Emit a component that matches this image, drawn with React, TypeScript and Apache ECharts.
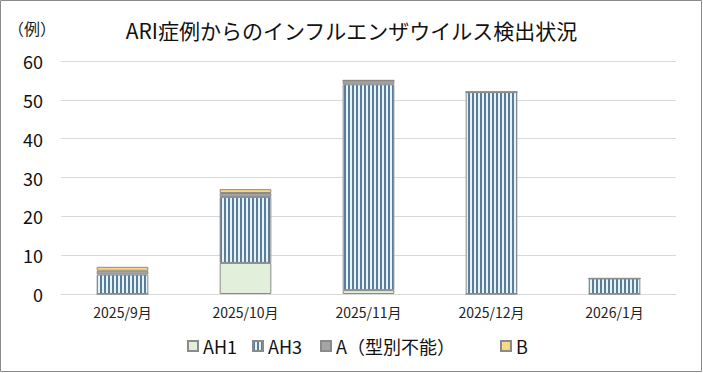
import React, { useEffect, useRef } from "react";
import * as echarts from "echarts";

const categories = ["2025/9月", "2025/10月", "2025/11月", "2025/12月", "2026/1月"];
const ah1 = [0, 8, 1, 0, 0];
const ah3 = [5, 17, 53, 52, 4];
const aUntyped = [1, 1, 1, 0, 0];
const bType = [1, 1, 0, 0, 0];
const seriesNames = ["AH1", "AH3", "A（型別不能）", "B"];
const yTicks = { min: 0, max: 60, interval: 10 };

const FONT = "'Noto Sans CJK JP', 'Noto Sans', sans-serif";

function makeStripe(): HTMLCanvasElement {
  const c = document.createElement("canvas");
  c.width = 4;
  c.height = 4;
  const ctx = c.getContext("2d")!;
  ctx.fillStyle = "#e3f4fc";
  ctx.fillRect(0, 0, 4, 4);
  ctx.fillStyle = "#5d7c97";
  ctx.fillRect(0, 0, 2, 4);
  return c;
}

function makeDots(): HTMLCanvasElement {
  const c = document.createElement("canvas");
  c.width = 4;
  c.height = 4;
  const ctx = c.getContext("2d")!;
  ctx.fillStyle = "#fdd77e";
  ctx.fillRect(0, 0, 4, 4);
  ctx.fillStyle = "#fff2c8";
  ctx.fillRect(1, 1, 1, 1);
  return c;
}

export default function App() {
  const ref = useRef<HTMLDivElement>(null);
  useEffect(() => {
    if (!ref.current) return;
    const chart = echarts.init(ref.current, undefined, { renderer: "svg" });
    const stripe = { image: makeStripe(), repeat: "repeat" } as any;
    const dots = { image: makeDots(), repeat: "repeat" } as any;
    const border = { borderColor: "#8a8a8a", borderWidth: 1 };
    const mk = (name: string, data: number[], color: any) => ({
      name,
      type: "bar",
      stack: "total",
      data,
      barWidth: "42%",
      itemStyle: { color, ...border },
    });
    const legendLefts = [187, 252, 320, 500];
    chart.setOption({
      animation: false,
      textStyle: { fontFamily: FONT },
      title: {
        text: "ARI症例からのインフルエンザウイルス検出状況",
        left: "center",
        top: 14,
        textStyle: { fontSize: 21, fontWeight: "normal", color: "#111", fontFamily: FONT },
      },
      graphic: [
        {
          type: "rect",
          shape: { x: 0.5, y: 0.5, width: 701, height: 371 },
          style: { fill: "none", stroke: "#8a8a8a", lineWidth: 1 },
          silent: true,
        },
        {
          type: "text",
          left: 8,
          top: 20,
          style: { text: "（例）", fontSize: 16, fill: "#222", fontFamily: FONT },
        },
      ],
      legend: seriesNames.map((n, i) => ({
        left: legendLefts[i],
        top: 337,
        padding: 0,
        icon: "rect",
        itemWidth: 10,
        itemHeight: 10,
        textStyle: { fontSize: 18, color: "#111", fontFamily: FONT },
        data: [n],
      })),
      grid: { left: 61, right: 27, top: 61, bottom: 79 },
      xAxis: {
        type: "category",
        data: categories,
        axisLine: { show: true, lineStyle: { color: "#d9d9d9" } },
        axisTick: { show: false },
        axisLabel: { fontSize: 14, color: "#222", margin: 11, fontFamily: FONT },
      },
      yAxis: {
        type: "value",
        min: yTicks.min,
        max: yTicks.max,
        interval: yTicks.interval,
        axisLine: { show: false },
        axisTick: { show: false },
        splitLine: { lineStyle: { color: "#d9d9d9" } },
        axisLabel: { fontSize: 18, color: "#111", margin: 18, fontFamily: FONT },
      },
      series: [
        mk(seriesNames[0], ah1, "#e2efda"),
        mk(seriesNames[1], ah3, stripe),
        mk(seriesNames[2], aUntyped, "#a5a5a5"),
        mk(seriesNames[3], bType, dots),
      ],
    });
    return () => chart.dispose();
  }, []);
  return (
    <div
      ref={ref}
      style={{ position: "fixed", left: 0, top: 0, width: 703, height: 373, background: "#fff" }}
    />
  );
}
